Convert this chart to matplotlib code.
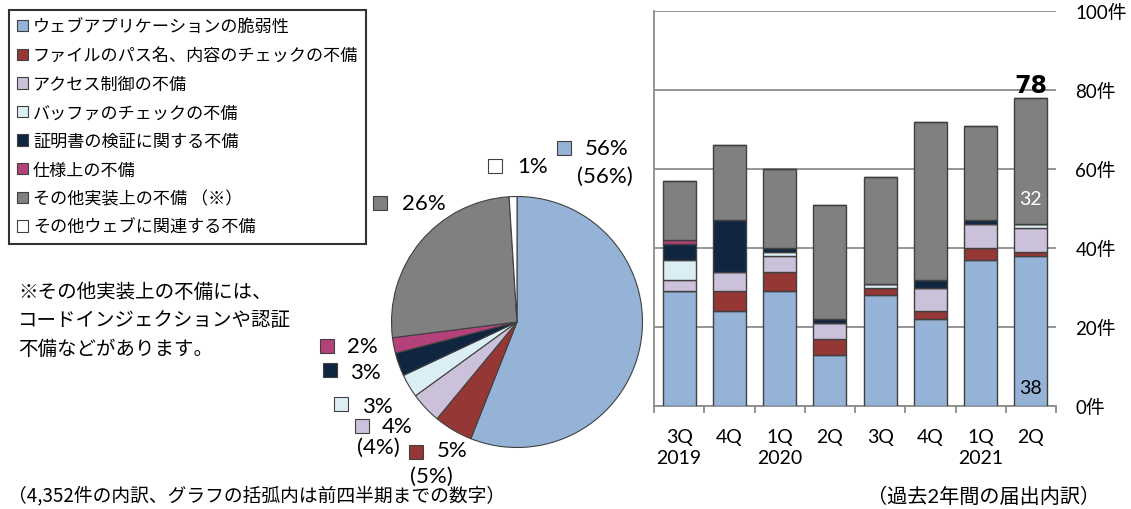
import numpy as np
import matplotlib
matplotlib.use("Agg")
from matplotlib import pyplot as plt
from matplotlib.patches import Patch, Rectangle

plt.rcParams['font.family'] = ['Lato', 'Noto Sans CJK JP', 'DejaVu Sans']

# categories / data
categories = ["ウェブアプリケーションの脆弱性", "ファイルのパス名、内容のチェックの不備",
              "アクセス制御の不備", "バッファのチェックの不備", "証明書の検証に関する不備",
              "仕様上の不備", "その他実装上の不備 （※）", "その他ウェブに関連する不備"]
colors = ["#95B3D7", "#953735", "#CCC1DA", "#DBEEF4", "#10253F", "#B4427A", "#808080", "#FFFFFF"]

pie_pct = [56, 5, 4, 3, 3, 2, 26, 1]
pie_prev = ["(56%)", "(5%)", "(4%)", None, None, None, None, None]

quarters = ["3Q\n2019", "4Q", "1Q\n2020", "2Q", "3Q", "4Q", "1Q\n2021", "2Q"]
web_app = [29, 24, 29, 13, 28, 22, 37, 38]
file_path = [0, 5, 5, 4, 2, 2, 3, 1]
access = [3, 5, 4, 4, 0, 6, 6, 6]
buffer = [5, 0, 1, 0, 1, 0, 0, 1]
cert = [4, 13, 1, 1, 0, 2, 1, 0]
spec = [1, 0, 0, 0, 0, 0, 0, 0]
other_impl = [15, 19, 20, 29, 27, 40, 24, 32]
other_web = [0, 0, 0, 0, 0, 0, 0, 0]
series = [web_app, file_path, access, buffer, cert, spec, other_impl, other_web]

yticks = [0, 20, 40, 60, 80, 100]

W, H = 1131, 510
fig = plt.figure(figsize=(W / 100, H / 100), dpi=100)


def px(x, y):
    # pixel (from top-left) -> figure fraction
    return x / W, 1 - y / H


edge = "#404040"

# ---- pie
cx, cy, r = 517, 323, 128
ax_p = fig.add_axes([(cx - r) / W, (H - cy - r) / H, 2 * r / W, 2 * r / H])
ax_p.pie(pie_pct, colors=colors, startangle=90, counterclock=False, radius=1,
         wedgeprops=dict(edgecolor=edge, linewidth=0.8))
ax_p.set_xlim(-1.02, 1.02)
ax_p.set_ylim(-1.02, 1.02)
ax_p.set_aspect("equal")
ax_p.axis("off")

# pie labels: (square x, square y, text x, text y, prev x, prev y)
label_pos = [(564, 149, 585, 149, 605, 177),
             (416, 453, 437, 451, 431, 477),
             (362, 427, 382, 427, 378, 448),
             (341, 405, 362, 407, None, None),
             (330, 371, 350, 373, None, None),
             (327, 347, 347, 347, None, None),
             (380, 204, 402, 204, None, None),
             (495, 167, 517, 167, None, None)]
sq = 14
for i, (sx, sy, tx, ty, ppx, ppy) in enumerate(label_pos):
    fig.add_artist(Rectangle(px(sx - sq / 2, sy + sq / 2), sq / W, sq / H,
                             transform=fig.transFigure, facecolor=colors[i],
                             edgecolor=edge, linewidth=0.8))
    fig.text(*px(tx, ty), f"{pie_pct[i]}%", fontsize=16, ha="left", va="center")
    if pie_prev[i]:
        fig.text(*px(ppx, ppy), pie_prev[i], fontsize=16, ha="center", va="center")

# ---- legend
handles = [Patch(facecolor=c, edgecolor=edge, linewidth=0.8) for c in colors]
leg = fig.legend(handles, categories, loc="upper left", bbox_to_anchor=px(9, 11),
                 prop={'family': ['Noto Sans CJK JP'], 'size': 12.3},
                 handlelength=0.65, handleheight=0.65, handletextpad=0.3,
                 labelspacing=0.62, borderpad=0.45, borderaxespad=0,
                 fancybox=False, frameon=True)
leg.get_frame().set_edgecolor("black")
leg.get_frame().set_linewidth(1.5)

fig.text(*px(18, 321), "※その他実装上の不備には、\nコードインジェクションや認証\n不備などがあります。",
         fontsize=14, ha="left", va="center", linespacing=1.45,
         family=['Noto Sans CJK JP'])
fig.text(*px(8, 496), "（4,352件の内訳、グラフの括弧内は前四半期までの数字）",
         fontsize=13.5, ha="left", va="center", family=['Noto Sans CJK JP'])
fig.text(*px(984, 496), "（過去2年間の届出内訳）",
         fontsize=14.5, ha="center", va="center", family=['Lato', 'Noto Sans CJK JP'])

# ---- stacked bars
x0, x1, ytop, ybot = 654, 1056, 12, 407
ax_b = fig.add_axes([x0 / W, (H - ybot) / H, (x1 - x0) / W, (ybot - ytop) / H])
x = np.arange(len(quarters))
bottom = np.zeros(len(quarters))
for vals, c in zip(series, colors):
    ax_b.bar(x, vals, bottom=bottom, width=0.66, color=c, edgecolor=edge,
             linewidth=1.0, zorder=3)
    bottom += np.array(vals)

ax_b.set_xlim(-0.5, len(quarters) - 0.5)
ax_b.set_ylim(0, 100)
ax_b.yaxis.tick_right()
ax_b.set_yticks(yticks)
ax_b.set_yticklabels([f"{v}件" for v in yticks], fontsize=13.5)
ax_b.tick_params(axis="y", length=0, pad=14)
ax_b.grid(axis="y", color="#8C8C8C", linewidth=1.3, zorder=0)

ax_b.set_xticks(np.arange(len(quarters) + 1) - 0.5)
ax_b.set_xticklabels([])
ax_b.set_xticks(x, minor=True)
ax_b.set_xticklabels(quarters, minor=True, fontsize=14, linespacing=1.3, va="top")
ax_b.tick_params(axis="x", which="major", direction="out", length=5, width=1.3,
                 color="#8C8C8C")
ax_b.tick_params(axis="x", which="minor", length=0, pad=16)

for s in ["top", "right"]:
    ax_b.spines[s].set_visible(False)
for s in ["left", "bottom"]:
    ax_b.spines[s].set_color("#8C8C8C")
    ax_b.spines[s].set_linewidth(1.3)

last = len(quarters) - 1
ax_b.text(x[last], bottom[last] + 1.4, f"{int(bottom[last])}", ha="center", va="baseline",
          fontsize=17, fontweight="bold", family=['DejaVu Sans'], zorder=4)
ax_b.text(x[last], bottom[last] - other_impl[last] + 6.5, f"{other_impl[last]}",
          ha="center", va="center", fontsize=14, color="white", zorder=4)
ax_b.text(x[last], 4.6, f"{web_app[last]}", ha="center", va="center",
          fontsize=14, color="black", zorder=4)

fig.savefig("out.png", dpi=100)
